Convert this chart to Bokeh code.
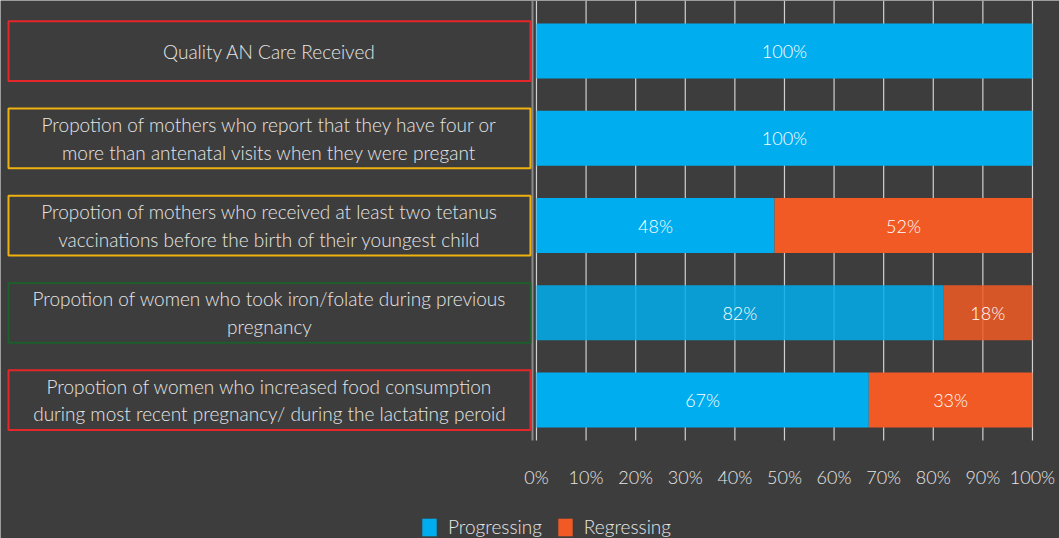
from bokeh.plotting import figure
from bokeh.models import ColumnDataSource, Range1d, Legend, LegendItem
from bokeh.core.properties import value
from bokeh.embed import file_html
from bokeh.resources import INLINE

# ---- data ----
categories = [
    "Quality AN Care Received",
    "Propotion of mothers who report that they have four or\nmore than antenatal visits when they were pregant",
    "Propotion of mothers who received at least two tetanus\nvaccinations before the birth of their youngest child",
    "Propotion of women who took iron/folate during previous\npregnancy",
    "Propotion of women who increased food consumption\nduring most recent pregnancy/ during the lactating peroid",
]
progressing = [100, 100, 48, 82, 67]
regressing = [0, 0, 52, 18, 33]
box_colors = ["#e5262a", "#efb110", "#efb110", "#1d5e2c", "#e5262a"]
tick_values = [0, 10, 20, 30, 40, 50, 60, 70, 80, 90, 100]
tick_labels = [f"{t}%" for t in tick_values]

# ---- style ----
BG = "#3d3d3d"
BLUE = "#00aeef"
ORANGE = "#f15a24"
TEXT = "#e6e6e6"
FONT = "Lato Light, Lato"

rows = list(range(len(categories)))
bar_alpha = [0.85 if i == 3 else 1.0 for i in rows]

src = ColumnDataSource(dict(
    y=rows,
    prog=progressing,
    reg=regressing,
    total=[a + b for a, b in zip(progressing, regressing)],
    alpha=bar_alpha,
    prog_mid=[a / 2 for a in progressing],
    reg_mid=[a + b / 2 for a, b in zip(progressing, regressing)],
    prog_lbl=[f"{v}%" if v > 0 else "" for v in progressing],
    reg_lbl=[f"{v}%" if v > 0 else "" for v in regressing],
    label=categories,
    box_color=box_colors,
))
tick_src = ColumnDataSource(dict(x=tick_values, lbl=tick_labels))

# layout constants (data units)
x_start, x_end = -108.06, 105.45
y_top, y_bottom = -0.579, 5.587
grid_bottom = 4.464
tick_label_y = 4.877
box_left, box_right = -106.45, -1.21

p = figure(width=1059, height=538, output_backend="svg", toolbar_location=None,
           x_range=Range1d(x_start, x_end), y_range=Range1d(y_bottom, y_top),
           background_fill_color=BG, border_fill_color=BG, outline_line_color=None,
           min_border_left=0, min_border_right=0, min_border_top=0, min_border_bottom=0)
p.xaxis.visible = False
p.yaxis.visible = False
p.grid.grid_line_color = None

# vertical gridlines at the ticks
p.segment(x0="x", x1="x", y0=y_top, y1=grid_bottom, source=tick_src,
          line_color="#d0d0d0", line_width=1.2)
# tick labels
p.text(x="x", y=tick_label_y, text="lbl", source=tick_src, text_align="center",
       text_baseline="middle", text_color=TEXT, text_font=value(FONT), text_font_size="18px")

# vertical axis line left of the bars
p.segment(x0=-0.806, x1=-0.806, y0=y_top, y1=grid_bottom, line_color="#8a8a8a", line_width=2)

# label boxes
box_center = (box_left + box_right) / 2
box_w = box_right - box_left
p.rect(x=box_center, y="y", width=box_w, height=0.685, source=src,
       fill_color=None, line_color="box_color", line_width=2)
p.text(x=box_center, y="y", text="label", source=src, text_align="center", text_baseline="middle",
       text_color=TEXT, text_font=value(FONT), text_font_size="19px", text_line_height=1.2)

# bars
r1 = p.hbar(y="y", left=0, right="prog", height=0.63, source=src,
            fill_color=BLUE, fill_alpha="alpha", line_color=None)
r2 = p.hbar(y="y", left="prog", right="total", height=0.63, source=src,
            fill_color=ORANGE, fill_alpha="alpha", line_color=None)

p.text(x="prog_mid", y="y", text="prog_lbl", source=src, text_align="center", text_baseline="middle",
       text_color="#ffffff", text_font=value(FONT), text_font_size="18px")
p.text(x="reg_mid", y="y", text="reg_lbl", source=src, text_align="center", text_baseline="middle",
       text_color="#ffffff", text_font=value(FONT), text_font_size="18px")

legend = Legend(items=[LegendItem(label="Progressing", renderers=[r1]),
                       LegendItem(label="Regressing", renderers=[r2])],
                orientation="horizontal", location=(420, 0),
                background_fill_alpha=0, border_line_color=None,
                label_text_color=TEXT, label_text_font=FONT, label_text_font_size="19px",
                glyph_width=18, glyph_height=22, label_height=22, padding=0, margin=0,
                spacing=14, label_standoff=10)
p.add_layout(legend)

open("out.html", "w").write(file_html(p, INLINE))
